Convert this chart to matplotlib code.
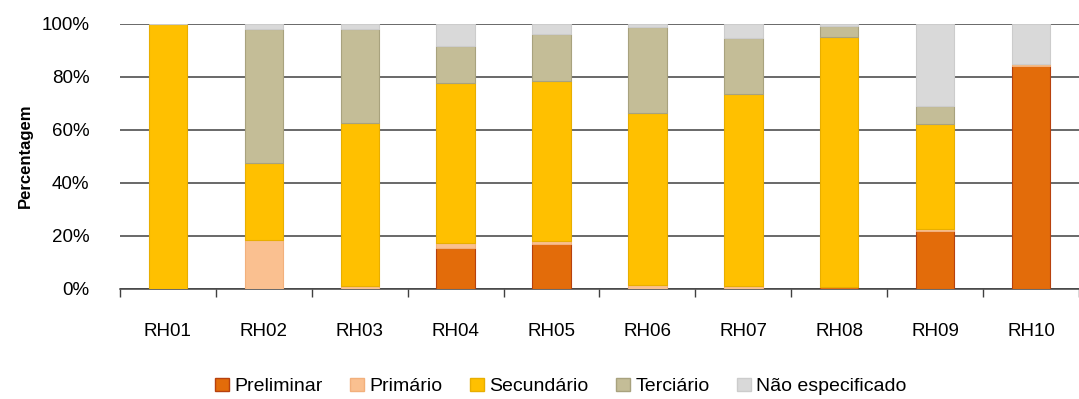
import matplotlib.pyplot as plt
import numpy as np
from matplotlib.patches import Patch

plt.rcParams['font.family'] = ['Liberation Sans Narrow', 'Liberation Sans', 'DejaVu Sans']

regions = ["RH01", "RH02", "RH03", "RH04", "RH05", "RH06", "RH07", "RH08", "RH09", "RH10"]
preliminar = [0.0, 0.0, 0.0, 15.5, 17.0, 0.0, 0.0, 0.7, 21.9, 84.1]
primario = [0.0, 18.3, 1.1, 1.6, 0.9, 1.4, 1.0, 0.0, 0.5, 0.8]
secundario = [100.0, 29.2, 61.4, 60.7, 60.4, 64.9, 72.6, 94.4, 39.7, 0.0]
terciario = [0.0, 50.6, 35.6, 14.0, 17.9, 32.3, 21.1, 3.9, 6.7, 0.0]
nao_especificado = [0.0, 1.9, 1.9, 8.2, 3.8, 1.4, 5.3, 1.0, 31.2, 15.1]

series = [
    ("Preliminar", preliminar, "#E36C0A", "#B7410E"),
    ("Primário", primario, "#FAC090", "#F2B07C"),
    ("Secundário", secundario, "#FFC000", "#E8AE00"),
    ("Terciário", terciario, "#C4BD97", "#A8A27E"),
    ("Não especificado", nao_especificado, "#D9D9D9", "#CCCCCC"),
]


def main():
    fig = plt.figure(figsize=(10.79, 3.99), dpi=100)
    ax = fig.add_axes([0.1112, 0.2764, 0.8888, 0.664])

    x = np.arange(len(regions))
    bottom = np.zeros(len(regions))
    handles = []
    for name, vals, color, edge in series:
        vals = np.array(vals)
        ax.bar(x, vals, 0.4, bottom=bottom, color=color, edgecolor=edge,
               linewidth=0.8, zorder=3)
        bottom += vals
        handles.append(Patch(facecolor=color, edgecolor=edge, label=name))

    ax.set_ylim(0, 100)
    ax.set_xlim(-0.5, 9.43)
    ax.set_yticks(np.arange(0, 101, 20))
    ax.set_yticklabels([f"{v}%" for v in range(0, 101, 20)], fontsize=13.5)
    ax.yaxis.grid(True, color="#404040", linewidth=1.1, zorder=0)
    ax.tick_params(axis="y", length=0, pad=22)

    # boundary ticks unlabeled, category labels on minor ticks
    ax.set_xticks(np.arange(-0.5, 10, 1.0))
    ax.set_xticklabels([])
    ax.set_xticks(x, minor=True)
    ax.set_xticklabels(regions, minor=True, fontsize=13.5)
    ax.tick_params(axis="x", which="major", length=6, width=1, color="#404040", direction="out")
    ax.tick_params(axis="x", which="minor", length=0, pad=25)

    for s in ["top", "right", "left"]:
        ax.spines[s].set_visible(False)
    ax.spines["bottom"].set_color("#404040")
    ax.spines["bottom"].set_linewidth(1.1)
    ax.set_axisbelow(True)

    ax.set_ylabel("Percentagem", fontsize=12, fontweight="bold", labelpad=6)

    fig.legend(handles=handles, loc="lower center", bbox_to_anchor=(0.52, -0.035), ncol=5,
               frameon=False, fontsize=14, handlelength=0.7, handleheight=0.7,
               handletextpad=0.3, columnspacing=1.4)

    fig.savefig("out.png", dpi=100)


if __name__ == "__main__":
    main()
